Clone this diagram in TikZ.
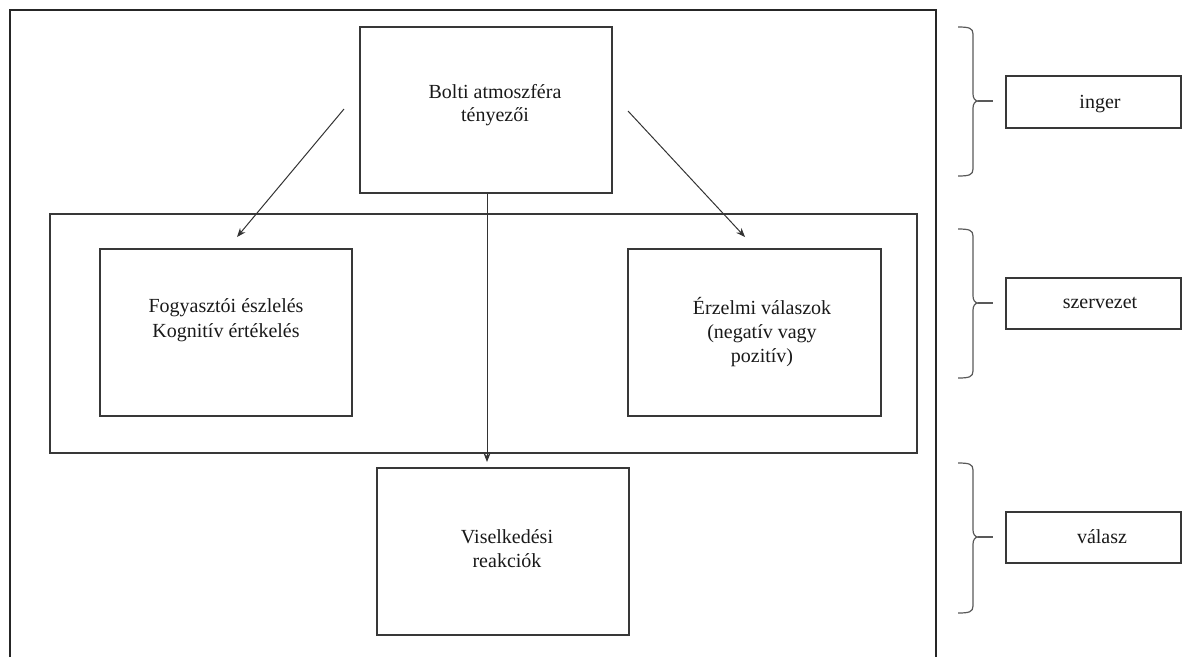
\documentclass[tikz,border=0pt]{standalone}
\usepackage{fontspec}
\setmainfont{Liberation Serif}
\usetikzlibrary{arrows.meta}
\begin{document}
\begin{tikzpicture}[x=1pt,y=-1pt,
  frame/.style={draw=black!85,line width=1.2pt},
  box/.style={draw=black!78,line width=1.2pt,rectangle,inner sep=0pt},
  txt/.style={anchor=base,inner sep=0pt,font=\fontsize{20}{23}\selectfont,text=black!90},
  conn/.style={draw=black!80,line width=1pt,-{Stealth[length=9pt,width=7pt]}},
  brace/.style={draw=black!65,line width=1.2pt}
]
\useasboundingbox (0,0) rectangle (1182,657);
% outer frame (open at bottom)
\draw[frame] (10,657) -- (10,10) -- (936,10) -- (936,657);
% boxes
\node[box,minimum width=252pt,minimum height=166pt] (top) at (486,110) {};
\node[box,minimum width=867pt,minimum height=239pt] (mid) at (483.5,333.5) {};
\node[box,minimum width=252pt,minimum height=167pt] (left) at (226,332.5) {};
\node[box,minimum width=253pt,minimum height=167pt] (right) at (754.5,332.5) {};
\node[box,minimum width=252pt,minimum height=167pt] (bot) at (503,551.5) {};
% texts
\node[txt] (t1) at (495,98) {Bolti atmoszféra};
\node[txt] (t2) at (495,121) {tényezői};
\node[txt] (l1) at (226,312) {Fogyasztói észlelés};
\node[txt] (l2) at (226,337) {Kognitív értékelés};
\node[txt] (r1) at (762,314) {Érzelmi válaszok};
\node[txt] (r2) at (762,338) {(negatív vagy};
\node[txt] (r3) at (762,362) {pozitív)};
\node[txt] (b1) at (507,543) {Viselkedési};
\node[txt] (b2) at (507,567) {reakciók};
% connectors
\coordinate (la) at (344,109);
\coordinate (lb) at (237,237);
\coordinate (ra) at (628,111);
\coordinate (rb) at (745,237);
\coordinate (vb) at (487,462);
\draw[conn] (la) -- (lb);
\draw[conn] (ra) -- (rb);
\draw[conn] (top.south -| vb) -- (vb);
% label boxes
\node[box,minimum width=175pt,minimum height=52pt] (inger) at (1093.5,102) {};
\node[box,minimum width=175pt,minimum height=51pt] (szerv) at (1093.5,303.5) {};
\node[box,minimum width=175pt,minimum height=51pt] (valasz) at (1093.5,537.5) {};
\node[txt] (ti) at (1100,108) {inger};
\node[txt] (ts) at (1100,308) {szervezet};
\node[txt] (tv) at (1102,543) {válasz};
% braces
\foreach \a/\m/\b in {27/101/176, 229/303/378, 463/537/613}{
  \draw[brace] (958,\a) .. controls (969,\a) and (973,\a+1) .. (973,\a+7)
    -- (973,\m-7) .. controls (973,\m-3) and (975,\m) .. (978,\m)
    .. controls (975,\m) and (973,\m+3) .. (973,\m+7)
    -- (973,\b-7) .. controls (973,\b-1) and (969,\b) .. (958,\b);
  \draw[brace] (978,\m) -- (993,\m);
}
\end{tikzpicture}
\end{document}
